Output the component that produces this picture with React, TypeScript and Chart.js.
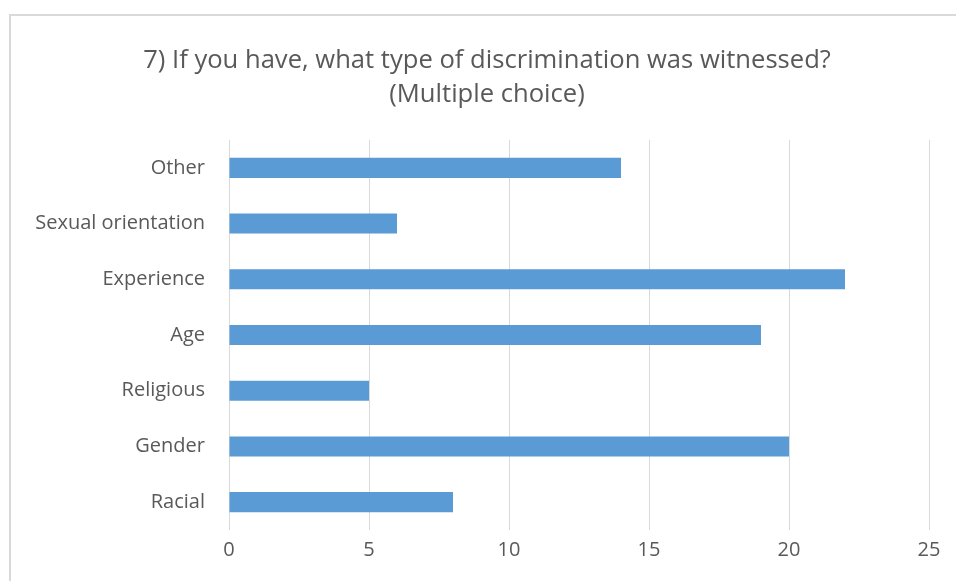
import React, { useEffect, useRef } from "react";
import { Chart, registerables } from "chart.js";

Chart.register(...registerables);

const categories = ["Other", "Sexual orientation", "Experience", "Age", "Religious", "Gender", "Racial"];
const counts = [14, 6, 22, 19, 5, 20, 8];
const xTicks = [0, 5, 10, 15, 20, 25];
const titleLines = ["7) If you have, what type of discrimination was witnessed?", "(Multiple choice)"];

const FONT = "'Open Sans', sans-serif";
const TEXT = "#595959";
const GRID = "#d9d9d9";
const BAR = "#5b9bd5";

const titlePlugin = {
  id: "centredTitle",
  afterDraw(chart: any) {
    const ctx = chart.ctx;
    ctx.save();
    ctx.fillStyle = TEXT;
    ctx.font = `25.6px ${FONT}`;
    ctx.textAlign = "center";
    ctx.textBaseline = "middle";
    const cx = 487;
    titleLines.forEach((line, i) => {
      ctx.fillText(line, cx, 61 + i * 34);
    });
    ctx.restore();
  },
};

export default function App() {
  const ref = useRef<HTMLCanvasElement | null>(null);

  useEffect(() => {
    if (!ref.current) return;
    const chart = new Chart(ref.current, {
      type: "bar",
      data: {
        labels: categories,
        datasets: [
          {
            data: counts,
            backgroundColor: BAR,
            borderWidth: 0,
            barPercentage: 0.36,
            categoryPercentage: 1,
          },
        ],
      },
      plugins: [titlePlugin],
      options: {
        indexAxis: "y",
        responsive: false,
        animation: false,
        layout: { padding: { left: 0, right: 27, top: 140, bottom: 0 } },
        plugins: {
          legend: { display: false },
          tooltip: { enabled: false },
          title: { display: false },
        },
        scales: {
          x: {
            min: 0,
            max: 25,
            afterBuildTicks: (scale: any) => {
              scale.ticks = xTicks.map((v) => ({ value: v }));
            },
            afterFit: (scale: any) => {
              scale.height = 51;
            },
            grid: { color: GRID, lineWidth: 1, drawTicks: false },
            border: { display: false },
            ticks: {
              color: TEXT,
              font: { family: FONT, size: 20 },
              padding: 8,
            },
          },
          y: {
            afterFit: (scale: any) => {
              scale.width = 229;
            },
            grid: { display: false, drawTicks: false },
            border: { display: false },
            ticks: {
              color: TEXT,
              font: { family: FONT, size: 20 },
              padding: 24,
            },
          },
        },
      },
    });
    return () => chart.destroy();
  }, []);

  return (
    <div style={{ position: "fixed", left: 0, top: 0, width: 956, height: 581, overflow: "hidden", background: "#fff" }}>
      <div
        style={{
          position: "absolute",
          left: 9,
          top: 14,
          width: 1000,
          height: 1000,
          border: `2px solid ${GRID}`,
          boxSizing: "border-box",
        }}
      />
      <canvas ref={ref} width={956} height={581} style={{ position: "absolute", left: 0, top: 0 }} />
    </div>
  );
}
